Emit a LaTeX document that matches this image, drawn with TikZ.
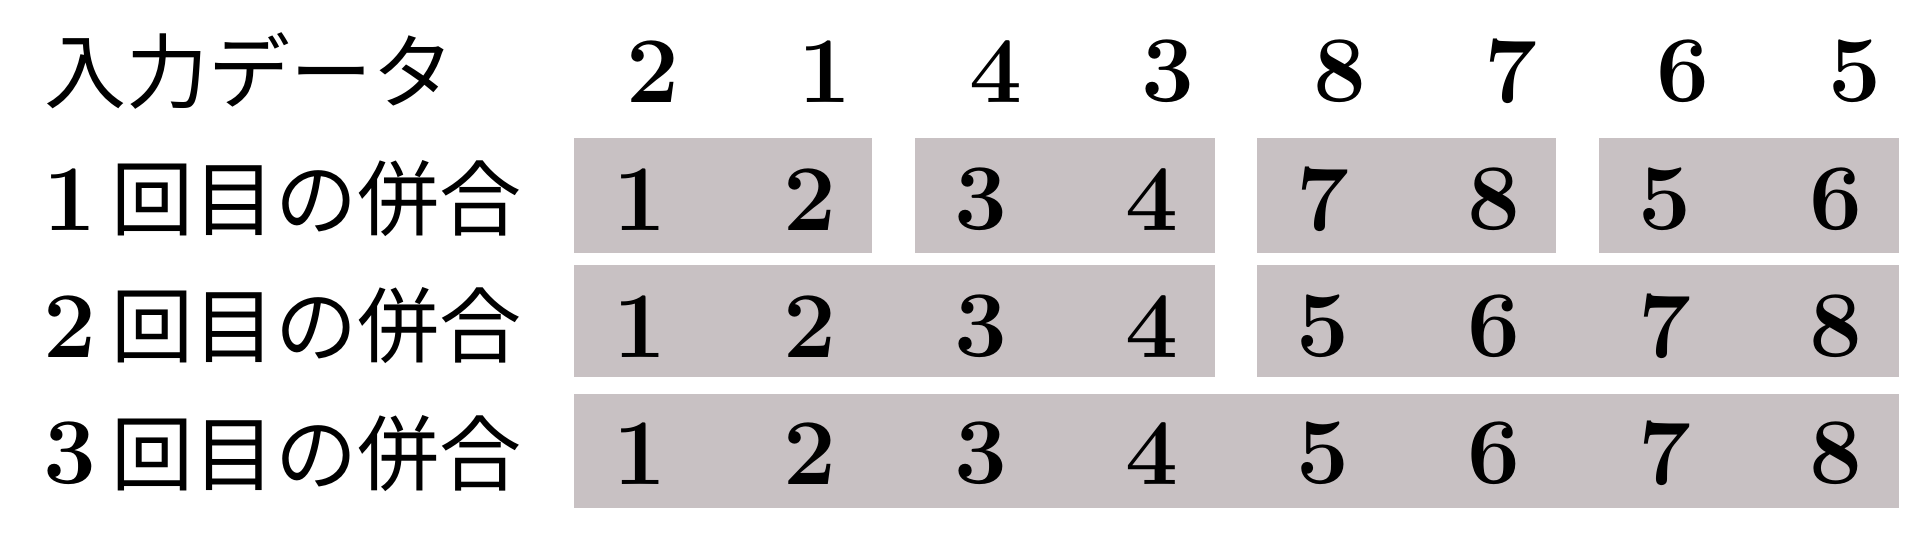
\documentclass[tikz,border=0pt]{standalone}
\usepackage{fontspec}
\newfontfamily\cjk{Noto Sans CJK JP}
\definecolor{boxgray}{RGB}{200,193,195}
\begin{document}
\begin{tikzpicture}[x=0.616pt,y=-0.616pt,
  num/.style={font=\fontsize{47}{47}\selectfont\rmfamily\bfseries, inner sep=0pt},
  lab/.style={font=\fontsize{41}{41}\selectfont\cjk, inner sep=0pt, anchor=base west},
  blk/.style={fill=boxgray, draw=none}]
\useasboundingbox (0,0) rectangle (1568,453);
% shaded groups
\fill[blk] (466,112) rectangle (708,205);
\fill[blk] (743,112) rectangle (986,205);
\fill[blk] (1020,112) rectangle (1263,205);
\fill[blk] (1298,112) rectangle (1541,205);
\fill[blk] (466,215) rectangle (986,306);
\fill[blk] (1020,215) rectangle (1541,306);
\fill[blk] (466,320) rectangle (1541,412);
% labels
\node[lab] (l0) at (36,83) {入力データ};
\node[num] (d1) at (57,162) {1};
\node[lab] (l1) at (90,186) {回目の併合};
\node[num] (d2) at (57,265) {2};
\node[lab] (l2) at (90,289) {回目の併合};
\node[num] (d3) at (57,368) {3};
\node[lab] (l3) at (90,393) {回目の併合};
% input row
\foreach \v [count=\i] in {2,1,4,3,8,7,6,5}
  \node[num] (a\i) at ({530+(\i-1)*139.3},58) {\v};
\foreach \v [count=\i] in {1,2,3,4,7,8,5,6}
  \node[num] (b\i) at ({519+(\i-1)*138.7},162) {\v};
\foreach \v [count=\i] in {1,2,3,4,5,6,7,8}
  \node[num] (c\i) at ({519+(\i-1)*138.7},265) {\v};
\foreach \v [count=\i] in {1,2,3,4,5,6,7,8}
  \node[num] (e\i) at ({519+(\i-1)*138.7},368) {\v};
\end{tikzpicture}
\end{document}
